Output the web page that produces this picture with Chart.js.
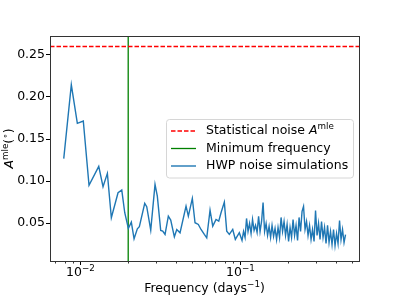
<!DOCTYPE html>
<html lang="en">
<head>
<meta charset="UTF-8">
<title>HWP noise</title>
<script src="https://cdn.jsdelivr.net/npm/chart.js"></script>
<style>
    body { margin: 0; background: #fff; }
    #wrap { width: 399px; height: 299px; }
</style>
</head>
<body>
<div id="wrap"><canvas id="chart" width="399" height="299"></canvas></div>
<script>
// frequency (days^-1) and amplitude (deg)
const freq = [0.00791, 0.00882, 0.00962, 0.01048, 0.01138, 0.01309, 0.01392, 0.01482, 0.01569, 0.01728,
    0.01823, 0.01903, 0.02004, 0.02092, 0.02176, 0.02281, 0.02348, 0.02537, 0.02611, 0.02766,
    0.02942, 0.03041, 0.03193, 0.03287, 0.03398, 0.03563, 0.03688, 0.03886, 0.04023, 0.04217,
    0.04597, 0.04752, 0.05033, 0.05232, 0.05487, 0.05704, 0.05982, 0.06192, 0.06494, 0.06752,
    0.07079, 0.0736, 0.07606, 0.07977, 0.08257, 0.08571, 0.09002, 0.09346, 0.09899,
    0.1029, 0.1052, 0.1075, 0.1098, 0.1122, 0.1147, 0.1172, 0.1197, 0.1224, 0.1250,
    0.1278, 0.1306, 0.1334, 0.1363, 0.1393, 0.1424, 0.1455, 0.1486, 0.1519, 0.1552,
    0.1585, 0.1620, 0.1655, 0.1692, 0.1728, 0.1766, 0.1805, 0.1844, 0.1884, 0.1925,
    0.1968, 0.2011, 0.2054, 0.2099, 0.2145, 0.2192, 0.2239, 0.2288, 0.2338, 0.2389,
    0.2441, 0.2494, 0.2549, 0.2604, 0.2661, 0.2719, 0.2779, 0.2839, 0.2901, 0.2964,
    0.3029, 0.3095, 0.3162, 0.3231, 0.3302, 0.3374, 0.3447, 0.3523, 0.3600, 0.3678,
    0.3758, 0.3840, 0.3924, 0.4010, 0.4097, 0.4187, 0.4278, 0.4371, 0.4467, 0.4564];
const ampl = [0.1267, 0.2145, 0.1687, 0.1714, 0.0949, 0.1175, 0.0933, 0.1092, 0.0564, 0.0862,
    0.0893, 0.0624, 0.0437, 0.0512, 0.0314, 0.0433, 0.0457, 0.0735, 0.0695, 0.0417,
    0.0961, 0.0821, 0.0413, 0.0405, 0.0366, 0.0583, 0.0536, 0.0338, 0.0425, 0.0386,
    0.0702, 0.0583, 0.0794, 0.0505, 0.0485, 0.0425, 0.0366, 0.0326, 0.0655, 0.0464,
    0.0544, 0.0524, 0.0624, 0.075, 0.0405, 0.0366, 0.0425, 0.0306, 0.0386,
    0.0294, 0.0401, 0.0330, 0.0556, 0.0401, 0.0496, 0.0377, 0.0544, 0.0413, 0.0473,
    0.0389, 0.0580, 0.0401, 0.0520, 0.0746, 0.0401, 0.0496, 0.0354, 0.0461, 0.0330,
    0.0473, 0.0342, 0.0437, 0.0306, 0.0449, 0.0330, 0.0568, 0.0401, 0.0520, 0.0354,
    0.0485, 0.0282, 0.0449, 0.0330, 0.0544, 0.0354, 0.0473, 0.0294, 0.0568, 0.0401,
    0.0639, 0.0699, 0.0425, 0.0520, 0.0354, 0.0473, 0.0306, 0.0425, 0.0282, 0.0651,
    0.0354, 0.0496, 0.0306, 0.0520, 0.0330, 0.0449, 0.0258, 0.0473, 0.0270, 0.0401,
    0.0246, 0.0425, 0.0234, 0.0377, 0.0258, 0.0532, 0.0306, 0.0425, 0.0270, 0.0365];
const statNoise = 0.26;
const minFreq = 0.02;
const xRange = [0.00649, 0.554];
const yRange = [0.005, 0.2725];
const yTicks = [0.05, 0.10, 0.15, 0.20, 0.25];
const xMajor = [0.01, 0.1];
const xMajorExp = ['\u22122', '\u22121'];
const xMinor = [0.007, 0.008, 0.009, 0.02, 0.03, 0.04, 0.05, 0.06, 0.07, 0.08, 0.09, 0.2, 0.3, 0.4, 0.5];

const FONT = '"DejaVu Sans", sans-serif';
const FS = 12.5;

// draws a run of text pieces, some of them superscript / italic
function richText(ctx, parts, x, y, size, align) {
    const segs = parts.map(p => {
        const s = p.sup ? size * 0.7 : size;
        const f = (p.it ? 'italic ' : '') + s + 'px ' + FONT;
        ctx.font = f;
        return { t: p.t, f: f, w: ctx.measureText(p.t).width, dy: p.sup ? -size * 0.38 : 0 };
    });
    const total = segs.reduce((a, s) => a + s.w, 0);
    let cx = align === 'center' ? x - total / 2 : (align === 'right' ? x - total : x);
    ctx.textAlign = 'left';
    ctx.textBaseline = 'middle';
    segs.forEach(s => {
        ctx.font = s.f;
        ctx.fillText(s.t, cx, y + s.dy);
        cx += s.w;
    });
}

const decor = {
    id: 'decor',
    afterDraw(chart) {
        const ctx = chart.ctx;
        const a = chart.chartArea;
        const xs = chart.scales.x;
        ctx.save();
        ctx.fillStyle = '#000';
        ctx.strokeStyle = '#000';
        ctx.lineWidth = 1;

        // x ticks
        xMajor.forEach((v, i) => {
            const px = Math.round(xs.getPixelForValue(v)) + 0.5;
            ctx.beginPath();
            ctx.moveTo(px, a.bottom);
            ctx.lineTo(px, a.bottom + 4);
            ctx.stroke();
            richText(ctx, [{ t: '10' }, { t: xMajorExp[i], sup: true }], px, a.bottom + 12, FS, 'center');
        });
        ctx.lineWidth = 0.8;
        xMinor.forEach(v => {
            const px = Math.round(xs.getPixelForValue(v)) + 0.5;
            ctx.beginPath();
            ctx.moveTo(px, a.bottom);
            ctx.lineTo(px, a.bottom + 2.5);
            ctx.stroke();
        });

        // axis titles
        richText(ctx, [{ t: 'Frequency (days' }, { t: '\u22121', sup: true }, { t: ')' }],
            (a.left + a.right) / 2, a.bottom + 28, FS, 'center');
        ctx.save();
        ctx.translate(10, (a.top + a.bottom) / 2);
        ctx.rotate(-Math.PI / 2);
        richText(ctx, [{ t: 'A', it: true }, { t: 'mle', sup: true }, { t: '(' }, { t: '\u2218', sup: true }, { t: ')' }],
            0, 0, FS, 'center');
        ctx.restore();

        // frame
        ctx.strokeStyle = '#333';
        ctx.lineWidth = 1;
        ctx.strokeRect(Math.round(a.left) + 0.5, Math.round(a.top) + 0.5,
            Math.round(a.right - a.left), Math.round(a.bottom - a.top));

        // legend
        const lx = 166, ly = 119.5, lw = 187, lh = 58.5;
        ctx.fillStyle = 'rgba(255,255,255,0.8)';
        ctx.strokeStyle = '#d6d6d6';
        ctx.beginPath();
        ctx.roundRect(lx + 0.5, ly, lw, lh, 3);
        ctx.fill();
        ctx.stroke();
        const rows = [
            { ds: chart.data.datasets[1], text: [{ t: 'Statistical noise ' }, { t: 'A', it: true }, { t: 'mle', sup: true }] },
            { ds: chart.data.datasets[2], text: [{ t: 'Minimum frequency' }] },
            { ds: chart.data.datasets[0], text: [{ t: 'HWP noise simulations' }] }
        ];
        rows.forEach((r, i) => {
            const y = 131 + i * 17.5;
            ctx.strokeStyle = r.ds.borderColor;
            ctx.lineWidth = r.ds.borderWidth;
            ctx.setLineDash(r.ds.borderDash || []);
            ctx.beginPath();
            ctx.moveTo(171, y);
            ctx.lineTo(196, y);
            ctx.stroke();
            ctx.setLineDash([]);
            ctx.fillStyle = '#000';
            richText(ctx, r.text, 206, y, FS, 'left');
        });
        ctx.restore();
    }
};

new Chart(document.getElementById('chart'), {
    type: 'line',
    data: {
        datasets: [
            {
                label: 'HWP noise simulations',
                data: freq.map((f, i) => ({ x: f, y: ampl[i] })),
                borderColor: '#1f77b4',
                borderWidth: 1.4,
                pointRadius: 0,
                tension: 0
            },
            {
                label: 'Statistical noise',
                data: xRange.map(f => ({ x: f, y: statNoise })),
                borderColor: '#ff0000',
                borderWidth: 1.3,
                borderDash: [4.5, 2],
                pointRadius: 0
            },
            {
                label: 'Minimum frequency',
                data: yRange.map(v => ({ x: minFreq, y: v })),
                borderColor: '#008000',
                borderWidth: 1.3,
                pointRadius: 0
            }
        ]
    },
    options: {
        responsive: false,
        animation: false,
        devicePixelRatio: 1,
        events: [],
        layout: { padding: { top: 36, right: 40, bottom: 38, left: 0 } },
        plugins: { legend: { display: false }, tooltip: { enabled: false } },
        scales: {
            x: {
                type: 'logarithmic',
                min: xRange[0],
                max: xRange[1],
                display: false
            },
            y: {
                type: 'linear',
                min: yRange[0],
                max: yRange[1],
                afterFit: s => { s.width = 50; },
                afterBuildTicks: s => { s.ticks = yTicks.map(v => ({ value: v })); },
                border: { display: false },
                grid: { drawOnChartArea: false, tickLength: 4, color: '#000', tickColor: '#000' },
                ticks: {
                    padding: 1,
                    color: '#000',
                    font: { family: 'DejaVu Sans', size: FS },
                    callback: v => v.toFixed(2)
                }
            }
        }
    },
    plugins: [decor]
});
</script>
</body>
</html>
